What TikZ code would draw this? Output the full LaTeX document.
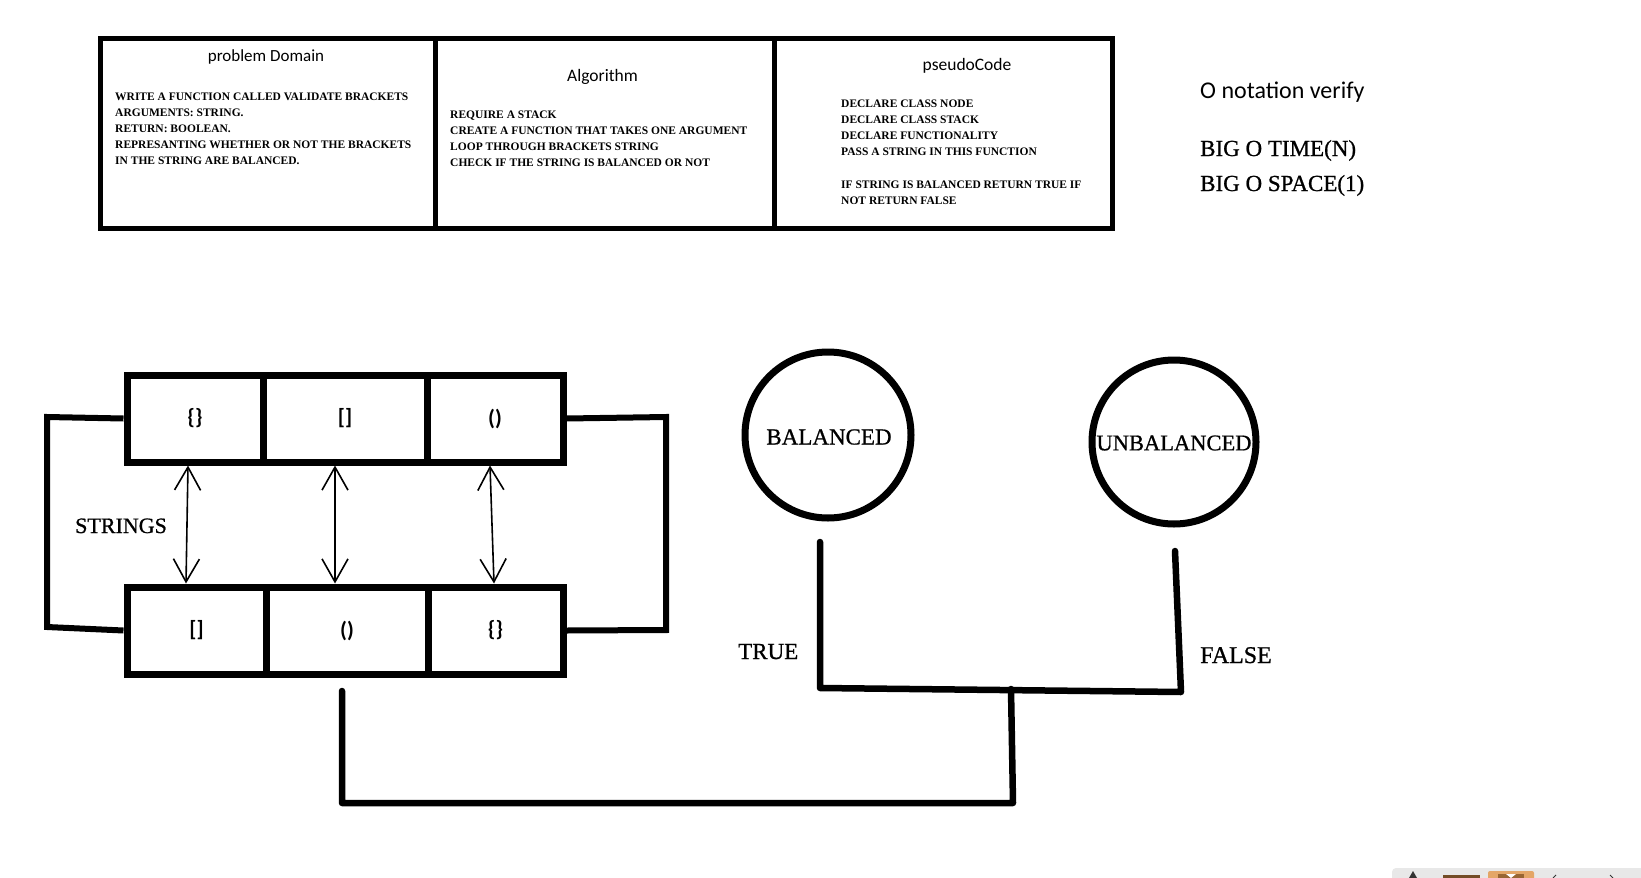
\documentclass[tikz,border=0pt]{standalone}
\usepackage{fontspec}
\setmainfont{Carlito}
\newfontfamily\deco{Liberation Serif}
\newfontfamily\decoh[FakeBold=0.8]{Liberation Serif}
\usetikzlibrary{arrows.meta,calc}
\begin{document}
\begin{tikzpicture}[x=1pt,y=-1pt,
 frame/.style={line width=5pt},
 cell/.style={draw, line width=7pt, minimum height=87pt, inner sep=0pt, font=\fontsize{22}{22}\selectfont\bfseries},
 circ/.style={draw, circle, line width=7pt, inner sep=0pt},
 wire/.style={line width=6.5pt, line cap=round, line join=round},
 loopw/.style={line width=6pt},
 dbl/.style={line width=1.6pt, {Straight Barb[length=23pt,width=26pt]}-{Straight Barb[length=23pt,width=26pt]}},
 body/.style={anchor=base west, inner sep=0pt, font=\deco\bfseries\fontsize{11.5}{14}\selectfont},
 title/.style={anchor=base, inner sep=0pt},
 decot/.style={inner sep=0pt, font=\decoh\fontsize{23}{23}\selectfont},
]
\useasboundingbox[fill=white] (0,0) rectangle (1641,878);

% ---- table ----
\draw[frame] (100,38) rectangle (1112,228);
\draw[frame] (435,38) -- (435,228);
\draw[frame] (774,38) -- (774,228);

\node[title, font=\fontsize{17}{17}\selectfont] (pdt) at (266,61.5) {problem Domain};
\node[title, font=\fontsize{17.5}{17.5}\selectfont] (alt) at (602.5,81.5) {Algorithm};
\node[title, font=\fontsize{17.5}{17.5}\selectfont] (pst) at (967,70) {pseudoCode};

\foreach \y/\t [count=\i] in {100.7/WRITE A FUNCTION CALLED VALIDATE BRACKETS,
  116/ARGUMENTS: STRING., 132.7/RETURN: BOOLEAN.,
  148.3/REPRESANTING WHETHER OR NOT THE BRACKETS,
  164.3/IN THE STRING ARE BALANCED.}
  \node[body] (pd\i) at (115,\y) {\t};

\foreach \y/\t [count=\i] in {118.3/REQUIRE A STACK,
  134.3/CREATE A FUNCTION THAT TAKES ONE ARGUMENT,
  150/LOOP THROUGH BRACKETS STRING,
  166/CHECK IF THE STRING IS BALANCED OR NOT}
  \node[body] (al\i) at (450,\y) {\t};

\foreach \y/\t [count=\i] in {107.7/DECLARE CLASS NODE,
  123.3/DECLARE CLASS STACK, 139.3/DECLARE FUNCTIONALITY,
  155/PASS A STRING IN THIS FUNCTION,
  188.3/IF STRING IS BALANCED RETURN TRUE IF,
  204.3/NOT RETURN FALSE}
  \node[body] (ps\i) at (841,\y) {\t};

% ---- O notation ----
\node[anchor=base west, inner sep=0pt, font=\fontsize{24}{24}\selectfont] (onv) at (1200,98) {O notation verify};
\node[decot, anchor=base west] (bigt) at (1200,156) {BIG O TIME(N)};
\node[decot, anchor=base west] (bigs) at (1200,191) {BIG O SPACE(1)};

% ---- bracket rows ----
\node[cell, minimum width=136pt] (t1) at (195,418.5) {\{\}};
\node[cell, minimum width=164pt] (t2) at (345,418.5) {[]};
\node[cell, minimum width=136pt] (t3) at (495,418.5) {()};
\node[cell, minimum width=139pt] (b1) at (196.5,630.5) {[]};
\node[cell, minimum width=162pt] (b2) at (347,630.5) {()};
\node[cell, minimum width=135pt] (b3) at (495.5,630.5) {\{\}};

\draw[dbl] ([xshift=-7pt]t1.south) -- ([xshift=-10.5pt]b1.north);
\draw[dbl] ([xshift=-10pt]t2.south) -- ([xshift=-12pt]b2.north);
\draw[dbl] ([xshift=-5pt]t3.south) -- ([xshift=-1.5pt]b3.north);

\draw[loopw] (t1.west) -- (47,417) -- (47,627) -- (b1.west);
\draw[loopw] (t3.east) -- (666,417) -- (666,630) -- (b3.east);

\node[decot, anchor=base west, font=\decoh\fontsize{22}{22}\selectfont] (str) at (75,533) {STRINGS};

% ---- result circles ----
\node[circ, minimum size=166pt] (c1) at (828,435) {};
\node[circ, minimum size=164pt] (c2) at (1174,442) {};
\node[decot] (c1l) at (829,437) {BALANCED};
\node[decot, font=\decoh\fontsize{22.5}{22.5}\selectfont] (c2l) at (1174,443) {UNBALANCED};

\coordinate (tt) at (820,542);
\coordinate (tb) at (820,688);
\coordinate (ft) at (1175,551);
\coordinate (fb) at (1181,692);
\coordinate (jn) at (1011,689);
\coordinate (jb) at (1013,803);
\coordinate (sb) at (342,803);
\coordinate (st) at (342,691);
\draw[wire] (tt) -- (tb) -- (fb) -- (ft);
\draw[wire] (jn) -- (jb) -- (sb) -- (st);

\node[decot, anchor=base west] (tru) at (738,659) {TRUE};
\node[decot, anchor=base west, font=\decoh\fontsize{24}{24}\selectfont] (fal) at (1200,663) {FALSE};

% ---- corner toolbar remnant ----
\fill[black!9] (1392,878) [rounded corners=4pt] -- (1392,868) [sharp corners] -- (1641,868) -- (1641,878) -- cycle;
\fill[black!80] (1409,878) -- (1413,871) -- (1417,878) -- cycle;
\fill[brown!60!black] (1443,875) rectangle (1480,878);
\fill[orange!40!brown!70, rounded corners=2pt] (1488,871) rectangle (1534,880);
\fill[brown!80!black] (1498,874) rectangle (1524,878);
\fill[white] (1506,874) -- (1516,874) -- (1511,878) -- cycle;
\draw[black!80, line width=1pt] (1553,878) -- (1556,875);
\draw[black!80, line width=1pt] (1610,875) -- (1613,878);
\end{tikzpicture}
\end{document}
